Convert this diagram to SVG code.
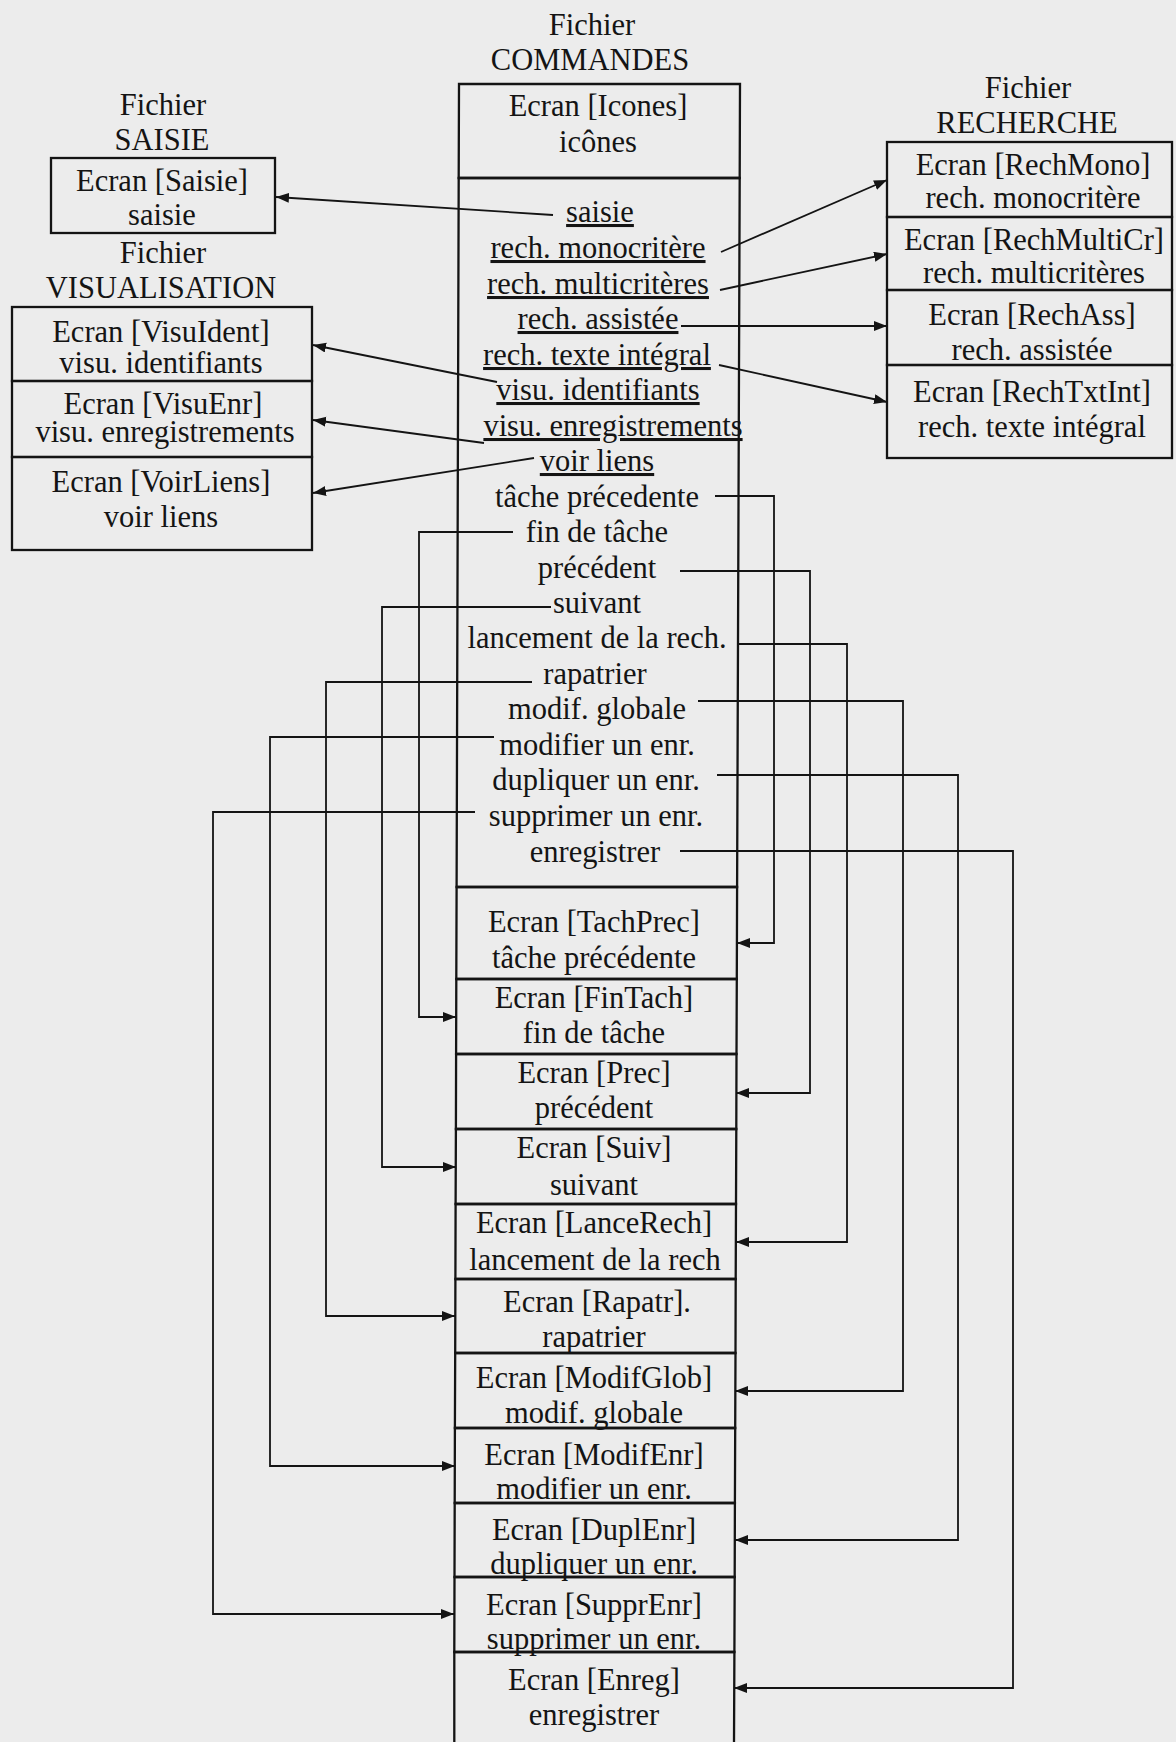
<svg xmlns="http://www.w3.org/2000/svg" width="1176" height="1742" viewBox="0 0 1176 1742">
  <style>
    text { font-family: "Liberation Serif", "Times New Roman", serif; font-size: 30.5px; fill: #141414; text-anchor: middle; }
    .u { text-decoration: underline; }
    .box { fill: none; stroke: #141414; stroke-width: 2.3; }
    .link { fill: none; stroke: #141414; stroke-width: 1.8; }
  </style>
  <defs>
    <marker id="arrow" markerUnits="userSpaceOnUse" markerWidth="14" markerHeight="12" refX="13" refY="5" orient="auto">
      <path d="M0,0 L13,5 L0,10 z" fill="#141414"/>
    </marker>
  </defs>

  <rect width="1176" height="1742" fill="#ececec"/>

  <!-- Fichier SAISIE -->
  <g id="fichier-saisie">
    <text x="163" y="115">Fichier</text>
    <text x="162" y="150">SAISIE</text>
    <rect class="box" x="51" y="158" width="224" height="75"/>
    <text x="162" y="191">Ecran [Saisie]</text>
    <text x="162" y="225">saisie</text>
  </g>

  <!-- Fichier VISUALISATION -->
  <g id="fichier-visualisation">
    <text x="163" y="263">Fichier</text>
    <text x="161" y="298">VISUALISATION</text>
  </g>
  <g id="visu-ident">
    <rect class="box" x="12" y="307" width="300" height="74"/>
    <text x="161" y="342">Ecran [VisuIdent]</text>
    <text x="161" y="373">visu. identifiants</text>
  </g>
  <g id="visu-enr">
    <rect class="box" x="12" y="381" width="300" height="76"/>
    <text x="163" y="414">Ecran [VisuEnr]</text>
    <text x="165" y="442">visu. enregistrements</text>
  </g>
  <g id="voir-liens">
    <rect class="box" x="12" y="457" width="300" height="93"/>
    <text x="161" y="492">Ecran [VoirLiens]</text>
    <text x="161" y="527">voir liens</text>
  </g>

  <!-- Fichier RECHERCHE -->
  <g id="fichier-recherche">
    <text x="1028" y="98">Fichier</text>
    <text x="1027" y="133">RECHERCHE</text>
  </g>
  <g id="rech-mono">
    <rect class="box" x="887" y="142" width="285" height="75"/>
    <text x="1033" y="175">Ecran [RechMono]</text>
    <text x="1033" y="208">rech. monocritère</text>
  </g>
  <g id="rech-multi">
    <rect class="box" x="887" y="217" width="285" height="73"/>
    <text x="1034" y="250">Ecran [RechMultiCr]</text>
    <text x="1034" y="283">rech. multicritères</text>
  </g>
  <g id="rech-ass">
    <rect class="box" x="887" y="290" width="285" height="75"/>
    <text x="1032" y="325">Ecran [RechAss]</text>
    <text x="1032" y="360">rech. assistée</text>
  </g>
  <g id="rech-txt-int">
    <rect class="box" x="887" y="365" width="285" height="93"/>
    <text x="1032" y="402">Ecran [RechTxtInt]</text>
    <text x="1032" y="437">rech. texte intégral</text>
  </g>

  <!-- Fichier COMMANDES -->
  <g id="fichier-commandes">
    <text x="592" y="35">Fichier</text>
    <text x="590" y="70">COMMANDES</text>
  </g>
  <g id="icones">
    <path class="box" d="M459,84 L740,84 L739.7,178 L458.7,178 Z"/>
    <text x="598" y="116">Ecran [Icones]</text>
    <text x="598" y="152">icônes</text>
  </g>
  <g id="commandes">
    <path class="box" d="M458.7,178 L739.7,178 L737.1,887 L456.6,887 Z"/>
    <text class="u" x="600" y="222">saisie</text>
    <text class="u" x="598" y="258">rech. monocritère</text>
    <text class="u" x="598" y="294">rech. multicritères</text>
    <text class="u" x="598" y="329">rech. assistée</text>
    <text class="u" x="597" y="365">rech. texte intégral</text>
    <text class="u" x="598" y="400">visu. identifiants</text>
    <text class="u" x="613" y="436">visu. enregistrements</text>
    <text class="u" x="597" y="471">voir liens</text>
    <text x="597" y="507">tâche précedente</text>
    <text x="597" y="542">fin de tâche</text>
    <text x="597" y="578">précédent</text>
    <text x="597" y="613">suivant</text>
    <text x="597" y="648">lancement de la rech.</text>
    <text x="595" y="684">rapatrier</text>
    <text x="597" y="719">modif. globale</text>
    <text x="597" y="755">modifier un enr.</text>
    <text x="596" y="790">dupliquer un enr.</text>
    <text x="596" y="826">supprimer un enr.</text>
    <text x="595" y="862">enregistrer</text>
  </g>

  <g id="tach-prec">
    <path class="box" d="M456.6,887 L737.1,887 L736.8,979 L456.3,979 Z"/>
    <text x="594" y="932">Ecran [TachPrec]</text>
    <text x="594" y="968">tâche précédente</text>
  </g>
  <g id="fin-tach">
    <path class="box" d="M456.3,979 L736.8,979 L736.5,1054 L456.1,1054 Z"/>
    <text x="594" y="1008">Ecran [FinTach]</text>
    <text x="594" y="1043">fin de tâche</text>
  </g>
  <g id="prec">
    <path class="box" d="M456.1,1054 L736.5,1054 L736.3,1129 L455.9,1129 Z"/>
    <text x="594" y="1083">Ecran [Prec]</text>
    <text x="594" y="1118">précédent</text>
  </g>
  <g id="suiv">
    <path class="box" d="M455.9,1129 L736.3,1129 L736.0,1204 L455.6,1204 Z"/>
    <text x="594" y="1158">Ecran [Suiv]</text>
    <text x="594" y="1195">suivant</text>
  </g>
  <g id="lance-rech">
    <path class="box" d="M455.6,1204 L736.0,1204 L735.7,1279 L455.4,1279 Z"/>
    <text x="594" y="1233">Ecran [LanceRech]</text>
    <text x="595" y="1270">lancement de la rech</text>
  </g>
  <g id="rapatr">
    <path class="box" d="M455.4,1279 L735.7,1279 L735.5,1353 L455.2,1353 Z"/>
    <text x="597" y="1312">Ecran [Rapatr].</text>
    <text x="594" y="1347">rapatrier</text>
  </g>
  <g id="modif-glob">
    <path class="box" d="M455.2,1353 L735.5,1353 L735.2,1428 L454.9,1428 Z"/>
    <text x="594" y="1388">Ecran [ModifGlob]</text>
    <text x="594" y="1423">modif. globale</text>
  </g>
  <g id="modif-enr">
    <path class="box" d="M454.9,1428 L735.2,1428 L734.9,1503 L454.7,1503 Z"/>
    <text x="594" y="1465">Ecran [ModifEnr]</text>
    <text x="594" y="1499">modifier un enr.</text>
  </g>
  <g id="dupl-enr">
    <path class="box" d="M454.7,1503 L734.9,1503 L734.7,1577 L454.5,1577 Z"/>
    <text x="594" y="1540">Ecran [DuplEnr]</text>
    <text x="594" y="1574">dupliquer un enr.</text>
  </g>
  <g id="suppr-enr">
    <path class="box" d="M454.5,1577 L734.7,1577 L734.4,1652 L454.3,1652 Z"/>
    <text x="594" y="1615">Ecran [SupprEnr]</text>
    <text x="594" y="1649">supprimer un enr.</text>
  </g>
  <g id="enreg">
    <path class="box" d="M454.3,1744 L454.3,1652 L734.4,1652 L734.0,1744"/>
    <text x="594" y="1690">Ecran [Enreg]</text>
    <text x="594" y="1725">enregistrer</text>
  </g>

  <!-- command links -->
  <g id="connectors">
    <path class="link" d="M553,215 L276,197" marker-end="url(#arrow)"/>
    <path class="link" d="M721,252 L887,180" marker-end="url(#arrow)"/>
    <path class="link" d="M720,290 L887,254" marker-end="url(#arrow)"/>
    <path class="link" d="M681,326 L887,326" marker-end="url(#arrow)"/>
    <path class="link" d="M719,365 L887,402" marker-end="url(#arrow)"/>
    <path class="link" d="M497,382 L313,345" marker-end="url(#arrow)"/>
    <path class="link" d="M484,443 L313,420" marker-end="url(#arrow)"/>
    <path class="link" d="M534,458 L313,493" marker-end="url(#arrow)"/>

    <path class="link" d="M715,496 H774 V943 H737" marker-end="url(#arrow)"/>
    <path class="link" d="M680,571 H810 V1093 H736" marker-end="url(#arrow)"/>
    <path class="link" d="M738,644 H847 V1242 H736" marker-end="url(#arrow)"/>
    <path class="link" d="M698,701 H903 V1391 H735" marker-end="url(#arrow)"/>
    <path class="link" d="M717,775 H958 V1540 H735" marker-end="url(#arrow)"/>
    <path class="link" d="M680,851 H1013 V1688 H734" marker-end="url(#arrow)"/>

    <path class="link" d="M513,532 H419 V1017 H456" marker-end="url(#arrow)"/>
    <path class="link" d="M551,607 H382 V1167 H456" marker-end="url(#arrow)"/>
    <path class="link" d="M532,682 H326 V1316 H455" marker-end="url(#arrow)"/>
    <path class="link" d="M494,737 H270 V1466 H455" marker-end="url(#arrow)"/>
    <path class="link" d="M475,812 H213 V1614 H454" marker-end="url(#arrow)"/>
  </g>
</svg>
